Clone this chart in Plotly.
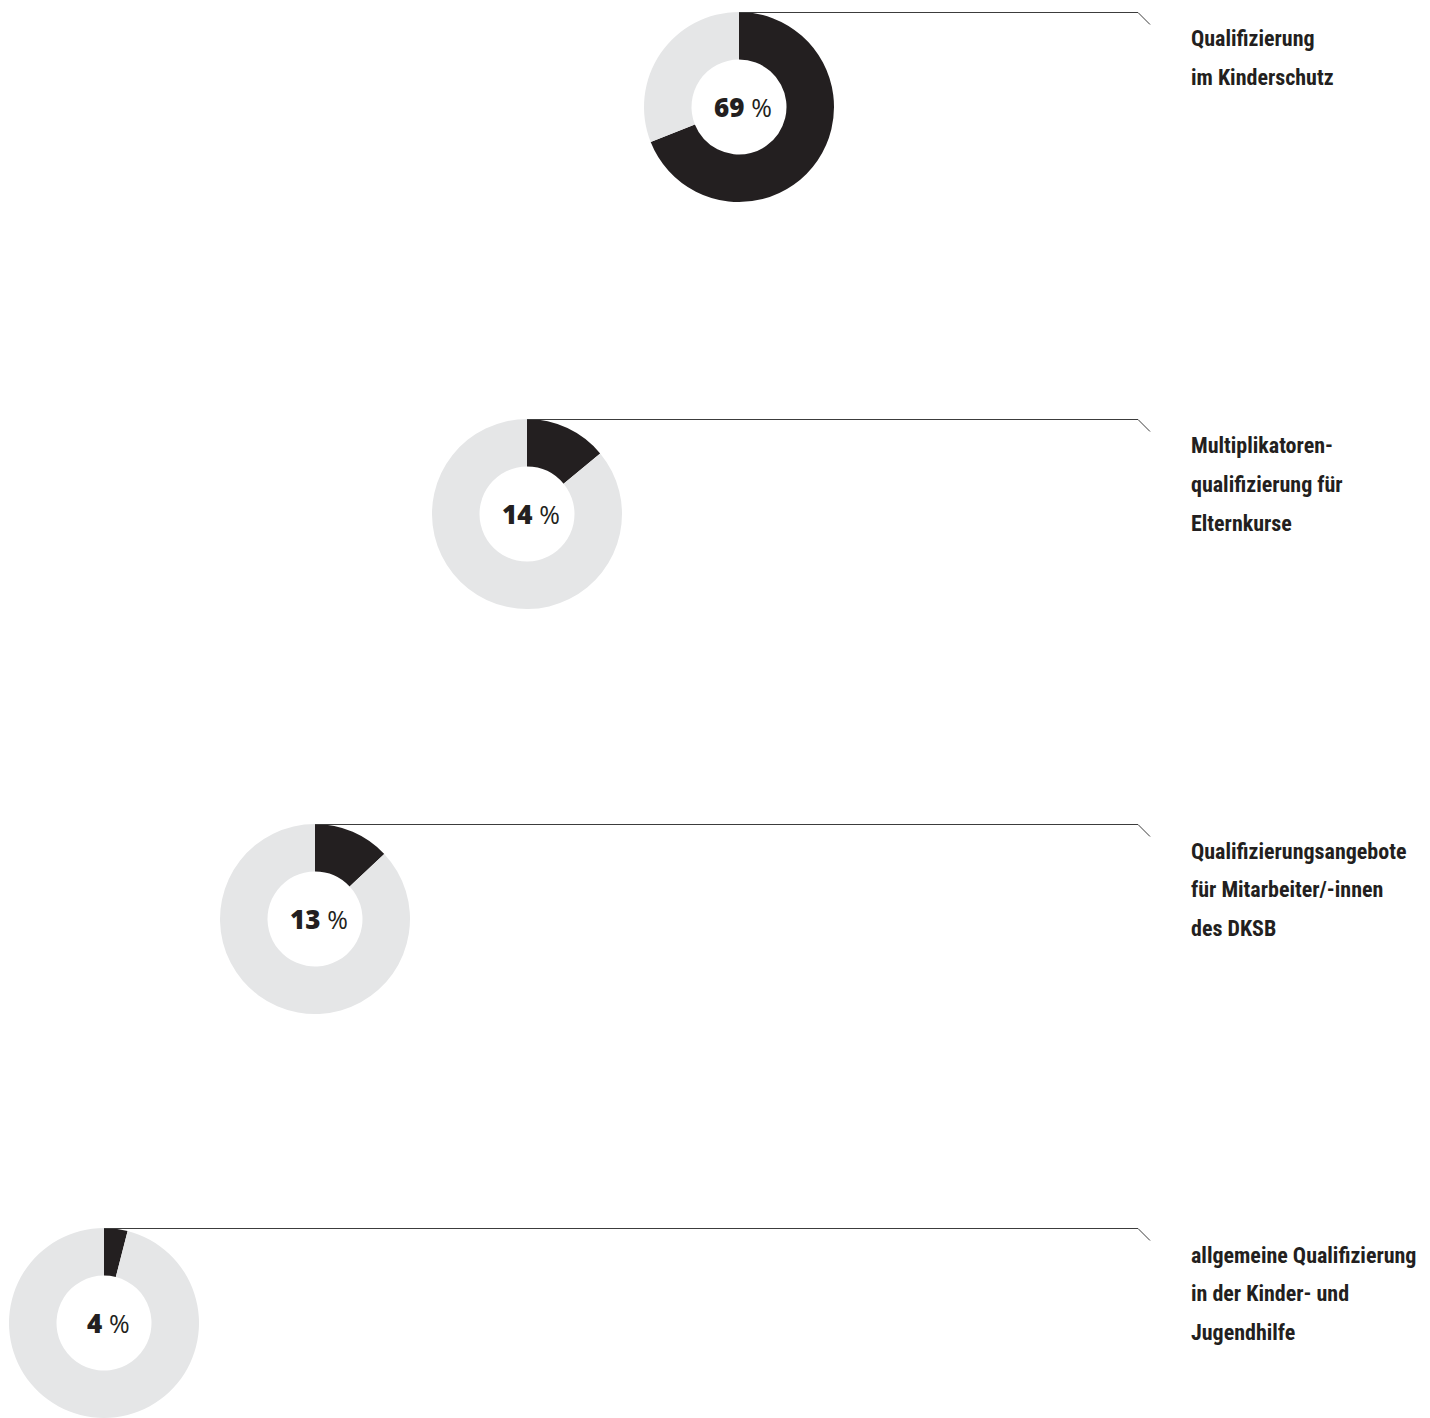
import plotly.graph_objects as go

W, H = 1430, 1418

# Data
categories = [
    ["Qualifizierung", "im Kinderschutz"],
    ["Multiplikatoren-", "qualifizierung für", "Elternkurse"],
    ["Qualifizierungsangebote", "für Mitarbeiter/-innen", "des DKSB"],
    ["allgemeine Qualifizierung", "in der Kinder- und", "Jugendhilfe"],
]
shares = [69, 14, 13, 4]
rest = [100 - s for s in shares]

# Layout (pixels)
centers_x = [739, 527, 315, 104]
centers_y = [107, 514, 919, 1323]
R = 95
hole = 0.5
DARK = "#231f20"
LIGHT = "#e5e6e7"
LINE = "#3c3c3c"
LABEL_X = 1189
LINE_END_X = 1138
DIAG = 12

fig = go.Figure()
annotations = []
shapes = []

for i, (s, r) in enumerate(zip(shares, rest)):
    cx, cy = centers_x[i], centers_y[i]
    x0 = (cx - R) / W
    x1 = (cx + R) / W
    y0 = max(0.0, (H - cy - R) / H)
    y1 = (H - cy + R) / H
    fig.add_trace(go.Pie(
        values=[s, r],
        labels=["ja", "nein"],
        sort=False,
        direction="clockwise",
        rotation=0,
        hole=hole,
        marker=dict(colors=[DARK, LIGHT], line=dict(width=0)),
        textinfo="none",
        hoverinfo="skip",
        showlegend=False,
        domain=dict(x=[x0, x1], y=[y0, y1]),
    ))
    annotations.append(dict(
        x=cx / W + 0.003, y=(H - cy) / H, xref="paper", yref="paper",
        text=f"<span style='font-weight:800'>{s}</span> <span style='font-size:25px;font-weight:400'>%</span>",
        showarrow=False, xanchor="center", yanchor="middle",
        font=dict(family="Open Sans", size=26, color=DARK),
    ))
    top = cy - R + 0.5
    shapes.append(dict(
        type="path", xref="paper", yref="paper",
        path=f"M {cx / W},{(H - top) / H} L {LINE_END_X / W},{(H - top) / H} L {(LINE_END_X + DIAG) / W},{(H - top - DIAG) / H}",
        line=dict(color=LINE, width=1),
    ))
    for j, txt in enumerate(categories[i]):
        ly = cy - R + 27 + j * 38.5
        annotations.append(dict(
            x=LABEL_X / W, y=(H - ly) / H, xref="paper", yref="paper",
            text=f"<b>{txt}</b>", showarrow=False, xanchor="left", yanchor="middle",
            font=dict(family="Roboto Condensed", size=22, color=DARK),
        ))

fig.update_layout(
    width=W, height=H,
    margin=dict(l=0, r=0, t=0, b=0),
    paper_bgcolor="white", plot_bgcolor="white",
    annotations=annotations, shapes=shapes,
)
fig.write_html("out.html")
